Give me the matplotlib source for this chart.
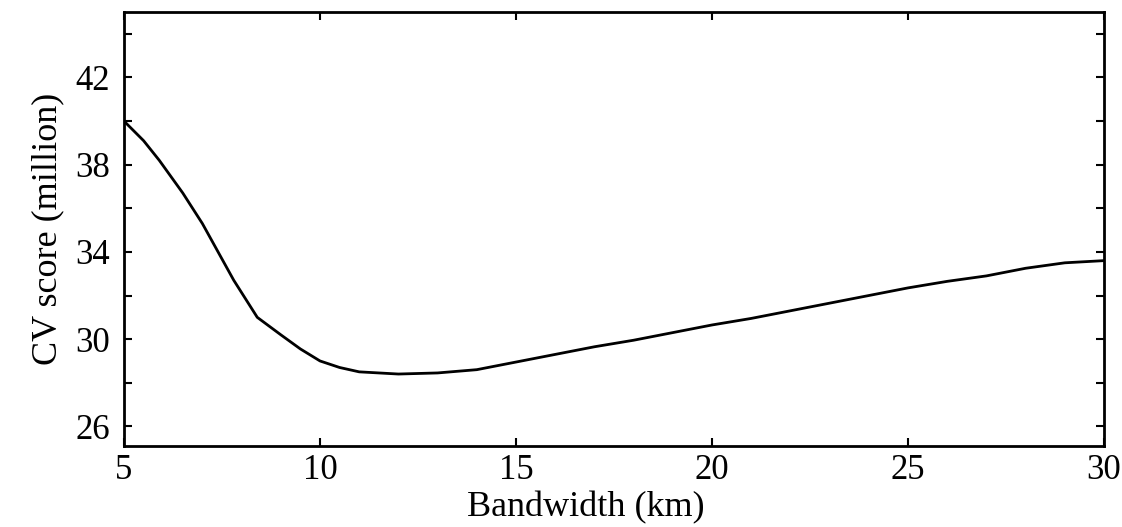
import matplotlib.pyplot as plt
from matplotlib.ticker import MultipleLocator, NullFormatter

# CV score curve
bandwidth = [5.0, 5.5, 5.9, 6.5, 7.0, 7.4, 7.8, 8.4, 9.0, 9.5, 10.0, 10.5, 11.0,
             11.5, 12.0, 13.0, 14.0, 15.0, 16.0, 17.0, 18.0, 19.0, 20.0, 21.0,
             22.0, 23.0, 24.0, 25.0, 26.0, 27.0, 28.0, 29.0, 30.0]
cv_score = [40.0, 39.1, 38.2, 36.7, 35.3, 34.0, 32.7, 31.0, 30.2, 29.55, 29.0,
            28.7, 28.5, 28.45, 28.4, 28.45, 28.6, 28.95, 29.3, 29.65, 29.95,
            30.3, 30.65, 30.95, 31.3, 31.65, 32.0, 32.35, 32.65, 32.9, 33.25,
            33.5, 33.6]

plt.rcParams['font.family'] = ['Liberation Serif', 'DejaVu Serif']

fig = plt.figure(figsize=(11.22, 5.27), dpi=100)
ax = fig.add_axes([0.1105, 0.1537, 0.8735, 0.8235])

ax.plot(bandwidth, cv_score, color='black', linewidth=2)

ax.set_xlim(5, 30)
ax.set_ylim(25.1, 45.0)
ax.xaxis.set_major_locator(MultipleLocator(5))
ax.yaxis.set_major_locator(MultipleLocator(4, offset=2))
ax.yaxis.set_minor_locator(MultipleLocator(4))
ax.yaxis.set_minor_formatter(NullFormatter())

ax.tick_params(which='both', direction='in', top=True, right=True,
               length=6, width=1.5, labelsize=25, colors='black')
ax.tick_params(axis='y', pad=10)
ax.tick_params(axis='x', pad=6)
for s in ax.spines.values():
    s.set_linewidth(2)

# x label sits just under the tick labels, a bit left of centre
ax.text(0.471, -0.163, 'Bandwidth (km)', transform=ax.transAxes,
        fontsize=26, ha='center', va='baseline')
ax.set_ylabel('CV score (million)', fontsize=26, labelpad=8)

plt.savefig('out.png', dpi=100)
